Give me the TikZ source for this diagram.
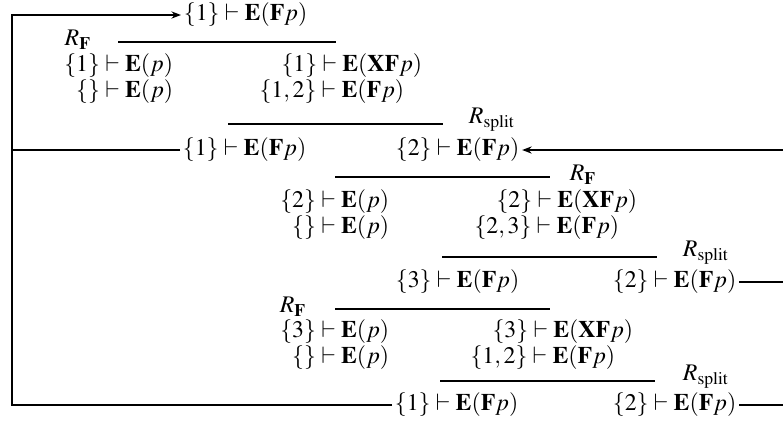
\documentclass[tikz,border=0pt]{standalone}
\usepackage{mathptmx}
\usetikzlibrary{arrows.meta}

\tikzset{
    seq/.style={inner sep=1pt, text height=7pt, text depth=2pt},
    rulebar/.style={line width=1pt},
    rulename/.style={inner sep=0pt},
    link/.style={line width=0.9pt},
    linkarrow/.style={line width=0.9pt, -{Stealth[length=4pt,width=3pt]}}
}

\begin{document}
\begin{tikzpicture}[x=0.42pt, y=-0.42pt]
    \useasboundingbox (0,0) rectangle (783,435);

    % Goal at the top
    \node[seq, anchor=west] (c0) at (181,15) {$\{1\} \vdash \mathbf{E}(\mathbf{F}p)$};

    % First R_F step
    \node[rulename] (rf1) at (78,40) {$R_{\mathbf{F}}$};
    \draw[rulebar] (118,42) -- (336,42);
    \node[seq, anchor=east] (a1) at (176,66) {$\{1\} \vdash \mathbf{E}(p)$};
    \node[seq, anchor=east] (a2) at (176,92) {$\{\} \vdash \mathbf{E}(p)$};
    \node[seq, anchor=east] (a3) at (425,66) {$\{1\} \vdash \mathbf{E}(\mathbf{XF}p)$};
    \node[seq, anchor=east] (a4) at (407,92) {$\{1,2\} \vdash \mathbf{E}(\mathbf{F}p)$};

    % First split
    \draw[rulebar] (228,124) -- (443,124);
    \node[rulename] (rs1) at (492,120) {$R_{\mathrm{split}}$};
    \node[seq, anchor=west] (c1) at (180,150) {$\{1\} \vdash \mathbf{E}(\mathbf{F}p)$};
    \node[seq, anchor=west] (c2) at (393,150) {$\{2\} \vdash \mathbf{E}(\mathbf{F}p)$};

    % Second R_F step
    \draw[rulebar] (335,177) -- (550,177);
    \node[rulename] (rf2) at (583,175) {$R_{\mathbf{F}}$};
    \node[seq, anchor=east] (b1) at (392,202) {$\{2\} \vdash \mathbf{E}(p)$};
    \node[seq, anchor=east] (b2) at (392,228) {$\{\} \vdash \mathbf{E}(p)$};
    \node[seq, anchor=east] (b3) at (640,202) {$\{2\} \vdash \mathbf{E}(\mathbf{XF}p)$};
    \node[seq, anchor=east] (b4) at (622,228) {$\{2,3\} \vdash \mathbf{E}(\mathbf{F}p)$};

    % Second split
    \draw[rulebar] (442,257) -- (657,257);
    \node[rulename] (rs2) at (706,253) {$R_{\mathrm{split}}$};
    \node[seq, anchor=west] (c3) at (393,282) {$\{3\} \vdash \mathbf{E}(\mathbf{F}p)$};
    \node[seq, anchor=west] (c4) at (610,282) {$\{2\} \vdash \mathbf{E}(\mathbf{F}p)$};

    % Third R_F step
    \node[rulename] (rf3) at (293,307) {$R_{\mathbf{F}}$};
    \draw[rulebar] (335,309) -- (550,309);
    \node[seq, anchor=east] (d1) at (392,332) {$\{3\} \vdash \mathbf{E}(p)$};
    \node[seq, anchor=east] (d2) at (392,358) {$\{\} \vdash \mathbf{E}(p)$};
    \node[seq, anchor=east] (d3) at (636,332) {$\{3\} \vdash \mathbf{E}(\mathbf{XF}p)$};
    \node[seq, anchor=east] (d4) at (618,358) {$\{1,2\} \vdash \mathbf{E}(\mathbf{F}p)$};

    % Third split
    \draw[rulebar] (440,381) -- (655,381);
    \node[rulename] (rs3) at (706,377) {$R_{\mathrm{split}}$};
    \node[seq, anchor=west] (c5) at (392,405) {$\{1\} \vdash \mathbf{E}(\mathbf{F}p)$};
    \node[seq, anchor=west] (c6) at (610,405) {$\{2\} \vdash \mathbf{E}(\mathbf{F}p)$};

    % Loop back on the left
    \coordinate (ltop) at (12,15);
    \draw[linkarrow] (c5.west) -| (ltop) -- (c0.west);
    \draw[link] (c1.west) -- (c1.west -| ltop);

    % Links on the right
    \coordinate (redge) at (783,150);
    \draw[linkarrow] (redge) -- (c2.east);
    \draw[link] (c4.east) -- (c4.east -| redge);
    \draw[link] (c6.east) -- (c6.east -| redge);
\end{tikzpicture}
\end{document}
